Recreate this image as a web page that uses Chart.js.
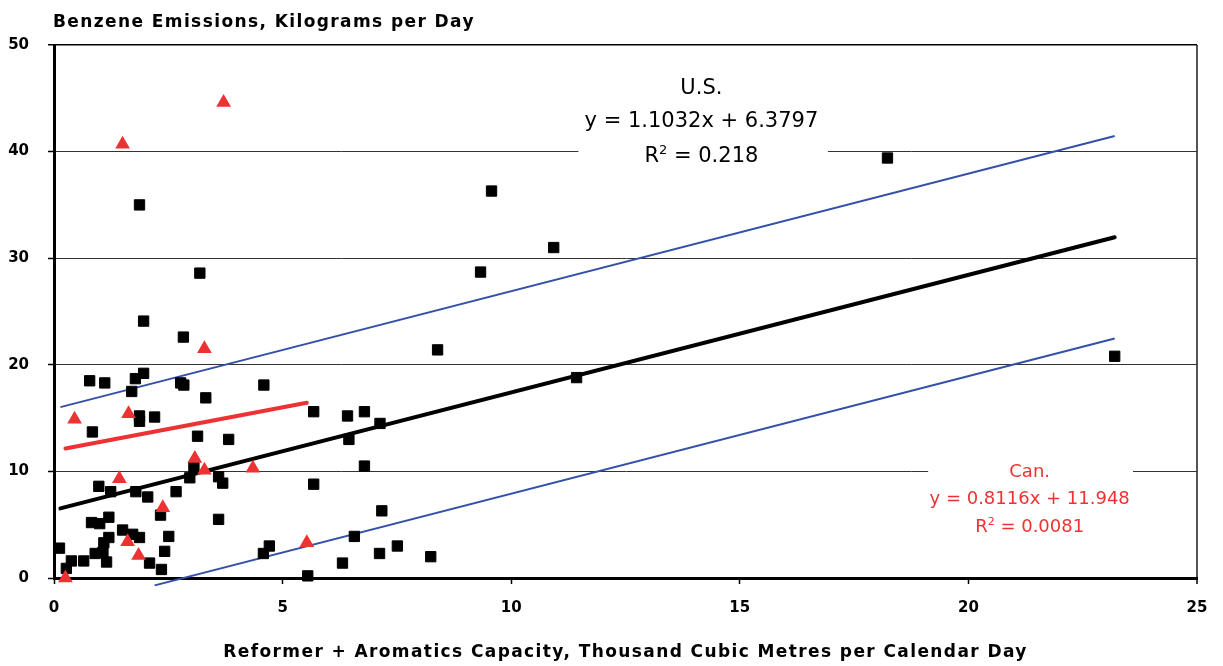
<!DOCTYPE html>
<html><head><meta charset="utf-8">
<script src="https://cdn.jsdelivr.net/npm/chart.js@4.4.1/dist/chart.umd.min.js"></script>
<style>html,body{margin:0;padding:0;background:#fff}#wrap{width:1223px;height:666px;position:relative}</style>
</head><body><div id="wrap"><canvas id="c"></canvas></div>
<script>
// ---- Data ----
const usX = [1.87,3.19,1.96,2.83,0.78,1.11,1.78,1.96,1.70,2.77,2.84,3.32,1.87,1.87,2.20,0.84,3.14,3.82,3.06,2.97,3.60,3.69,0.98,1.24,1.79,2.05,2.67,2.33,3.60,0.82,1.00,1.20,1.50,1.72,1.87,2.51,1.20,1.09,0.12,2.42,0.90,1.07,0.65,0.38,0.27,1.15,2.09,2.35,
  4.59,5.68,6.42,6.79,7.13,6.45,6.79,5.68,7.17,6.57,4.71,4.58,7.51,7.12,6.31,8.24,5.55,
  8.39,9.33,9.57,10.93,11.43,18.23,23.2];
const usY = [35.0,28.6,24.1,22.6,18.5,18.3,18.7,19.2,17.5,18.3,18.1,16.9,15.2,14.7,15.1,13.7,13.3,13.0,10.4,9.4,9.5,8.9,8.6,8.1,8.1,7.6,8.1,5.9,5.5,5.2,5.1,5.7,4.5,4.1,3.8,3.9,3.8,3.3,2.8,2.5,2.3,2.4,1.6,1.6,0.9,1.5,1.4,0.8,
  18.1,15.6,15.2,15.6,14.5,13.0,10.5,8.8,6.3,3.9,3.0,2.3,3.0,2.3,1.4,2.0,0.2,
  21.4,28.7,36.3,31.0,18.8,39.4,20.8];
const canX = [0.45,1.50,3.71,3.29,1.63,1.43,3.08,3.29,4.35,2.38,1.61,1.85,0.25,5.53];
const canY = [14.9,40.7,44.6,21.5,15.4,9.3,11.2,10.1,10.3,6.6,3.4,2.1,0.0,3.3];
// trend lines (end points)
const usTrendX = [0.14, 23.2], usTrendY = [6.53, 31.97];
const usUpperX = [0.14, 23.2], usUpperY = [16.03, 41.47];
const usLowerX = [2.2, 23.2], usLowerY = [-0.69, 22.47];
const canTrendX = [0.25, 5.53], canTrendY = [12.15, 16.44];
const xTicks = [0, 5, 10, 15, 20, 25];
const yTicks = [0, 10, 20, 30, 40, 50];
const yTitle = 'Benzene Emissions, Kilograms per Day';
const xTitle = 'Reformer + Aromatics Capacity, Thousand Cubic Metres per Calendar Day';
const usLabel = ['U.S.', 'y = 1.1032x + 6.3797', '0.218'];
const canLabel = ['Can.', 'y = 0.8116x + 11.948', '0.0081'];

const zip = (xs, ys) => xs.map((v, i) => ({x: v, y: ys[i]}));
const RED = 'rgb(236,50,50)', BLUE = 'rgb(52,80,168)';
const FAM = '"DejaVu Sans", sans-serif';

function drawNote(ctx, xs, ys, box, cx, lines, size, color) {
  ctx.fillStyle = '#fff';
  const bx0 = xs.getPixelForValue(box[0]), bx1 = xs.getPixelForValue(box[1]);
  const by0 = ys.getPixelForValue(box[2]), by1 = ys.getPixelForValue(box[3]);
  ctx.fillRect(bx0, by0, bx1 - bx0, by1 - by0);
  ctx.fillStyle = color;
  ctx.font = size + 'px ' + FAM;
  ctx.textBaseline = 'alphabetic';
  const px = xs.getPixelForValue(cx);
  const off = 0.365 * size;
  ctx.textAlign = 'center';
  ctx.fillText(lines[0], px, ys.getPixelForValue(lines[3]) + off);
  ctx.fillText(lines[1], px, ys.getPixelForValue(lines[4]) + off);
  // R² line
  const yy = ys.getPixelForValue(lines[5]) + off;
  ctx.textAlign = 'left';
  const wR = ctx.measureText('R').width;
  const rest = ' = ' + lines[2];
  const wRest = ctx.measureText(rest).width;
  ctx.font = Math.round(size * 0.62) + 'px ' + FAM;
  const w2 = ctx.measureText('2').width;
  const total = wR + w2 + wRest;
  const sx = px - total / 2;
  ctx.font = size + 'px ' + FAM;
  ctx.fillText('R', sx, yy);
  ctx.font = Math.round(size * 0.62) + 'px ' + FAM;
  ctx.fillText('2', sx + wR, yy - size * 0.38);
  ctx.font = size + 'px ' + FAM;
  ctx.fillText(rest, sx + wR + w2, yy);
}

const notesPlugin = {
  id: 'notes',
  afterDatasetsDraw(chart) {
    const {ctx, scales: {x, y}} = chart;
    ctx.save();
    drawNote(ctx, x, y, [11.47, 16.93, 48.1, 37.0], 14.16,
      [usLabel[0], usLabel[1], usLabel[2], 46.15, 43.0, 39.7], 21, '#000');
    drawNote(ctx, x, y, [19.12, 23.6, 12.5, 3.0], 21.34,
      [canLabel[0], canLabel[1], canLabel[2], 10.1, 7.6, 4.9], 18, RED);
    ctx.restore();
  },
  afterDraw(chart) {
    const {ctx, chartArea} = chart;
    ctx.save();
    ctx.fillStyle = '#000';
    ctx.font = 'bold 17px ' + FAM;
    if ('letterSpacing' in ctx) ctx.letterSpacing = '1.4px';
    ctx.textBaseline = 'alphabetic';
    ctx.textAlign = 'left';
    ctx.fillText(yTitle, 53, 20.5 + 0.365 * 17);
    ctx.textAlign = 'center';
    ctx.fillText(xTitle, (chartArea.left + chartArea.right) / 2, 650.5 + 0.365 * 17);
    if ('letterSpacing' in ctx) ctx.letterSpacing = '0px';
    ctx.restore();
  }
};

new Chart(document.getElementById('c'), {
  type: 'scatter',
  data: {
    datasets: [
      {label: 'Can.', data: zip(canX, canY), pointStyle: 'triangle', pointRadius: 8.5, pointHoverRadius: 8.5,
        backgroundColor: RED, borderColor: RED, borderWidth: 0, clip: false},
      {label: 'U.S.', data: zip(usX, usY), pointStyle: 'rect', pointRadius: 7.3, pointHoverRadius: 7.3,
        backgroundColor: '#000', borderColor: '#000', borderWidth: 1, clip: false},
      {label: 'Can. trend', data: zip(canTrendX, canTrendY), showLine: true, pointRadius: 0,
        borderColor: RED, borderWidth: 4, borderCapStyle: 'round'},
      {label: 'U.S. trend', data: zip(usTrendX, usTrendY), showLine: true, pointRadius: 0,
        borderColor: '#000', borderWidth: 4, borderCapStyle: 'round'},
      {label: 'upper', data: zip(usUpperX, usUpperY), showLine: true, pointRadius: 0,
        borderColor: BLUE, borderWidth: 2},
      {label: 'lower', data: zip(usLowerX, usLowerY), showLine: true, pointRadius: 0,
        borderColor: BLUE, borderWidth: 2, clip: {left: 0, top: 0, right: 0, bottom: 8}}
    ]
  },
  options: {
    responsive: true, maintainAspectRatio: false, animation: false,
    layout: {padding: {top: 45, right: 26, left: 0, bottom: 0}},
    plugins: {legend: {display: false}, tooltip: {enabled: false}, title: {display: false}},
    scales: {
      x: {
        type: 'linear', min: 0, max: 25,
        afterBuildTicks: s => { s.ticks = xTicks.map(v => ({value: v})); },
        afterFit: s => { s.height = 88; },
        ticks: {color: '#000', font: {family: FAM, size: 15, weight: 'bold'}, padding: 15, maxRotation: 0},
        grid: {
          color: c => (c.tick && c.tick.value === 25) ? '#555' : 'rgba(0,0,0,0)',
          lineWidth: c => (c.tick && c.tick.value === 25) ? 2 : 1,
          tickColor: '#000', tickWidth: 1.5, tickLength: 6, drawTicks: true
        },
        border: {color: '#000', width: 3}
      },
      y: {
        type: 'linear', min: 0, max: 50,
        afterBuildTicks: s => { s.ticks = yTicks.map(v => ({value: v})); },
        afterFit: s => { s.width = 54; },
        ticks: {color: '#000', font: {family: FAM, size: 15, weight: 'bold'}, padding: 19},
        grid: {
          color: c => (c.tick && c.tick.value === 50) ? '#000' : '#333',
          lineWidth: c => (c.tick && c.tick.value === 50) ? 1.5 : 1,
          tickColor: '#000', tickWidth: 1.5, tickLength: 6
        },
        border: {color: '#000', width: 3}
      }
    }
  },
  plugins: [notesPlugin]
});
</script>
</body></html>
